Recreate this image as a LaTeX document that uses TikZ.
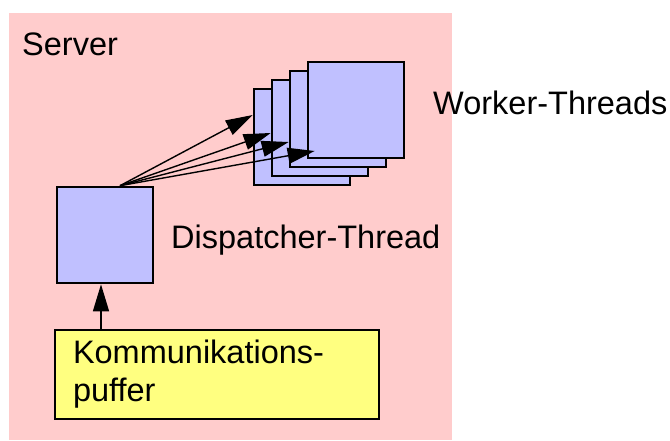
\documentclass[tikz,border=0pt]{standalone}
\usepackage{fontspec}
\setmainfont{Liberation Sans}
\usetikzlibrary{positioning,arrows.meta}
\definecolor{srvpink}{RGB}{255,204,204}
\definecolor{thrblue}{RGB}{192,192,255}
\definecolor{bufyellow}{RGB}{255,255,128}
\tikzset{
  thread/.style={draw,line width=2.6pt,fill=thrblue,minimum width=96pt,minimum height=96pt,inner sep=0pt},
  label/.style={inner sep=0pt,anchor=base west,font=\fontsize{32.5}{38}\selectfont},
  arr/.style={line width=1.4pt,-{Triangle[length=27pt,width=16pt]}}
}

\begin{document}
\begin{tikzpicture}[x=1pt,y=-1pt]
        \useasboundingbox (0,0) rectangle (670,440);
        \fill[srvpink] (9,13) rectangle (452,440);
        \node(S)[label] at (22,55) {Server};
        \node(W1)[thread] at (302,137) {};
        \node(W2)[thread] at ([shift={(18,-9)}]W1) {};
        \node(W3)[thread] at ([shift={(18,-9)}]W2) {};
        \node(W4)[thread] at ([shift={(18,-9)}]W3) {};
        \node(WL)[label] at (433,114) {Worker-Threads};
        \node(D)[thread] at (105,235) {};
        \node(DL)[label] at (171,248) {Dispatcher-Thread};
        \node(B)[draw,line width=2.6pt,fill=bufyellow,minimum width=324pt,minimum height=89pt,
              inner xsep=17.5pt,inner ysep=0pt,text width=288pt,align=left,
              font=\fontsize{32.5}{38}\selectfont] at (217,374.5) {Kommunikations-\\puffer};
        \coordinate(src) at ([xshift=15pt]D.north);
        \coordinate(up) at ([xshift=-4pt]D.south);
        \draw[arr] (src) -- ([yshift=22pt]W1.west);
        \draw[arr] (src) -- ([yshift=-5pt]W2.west);
        \draw[arr] (src) -- ([yshift=-23pt]W3.west);
        \draw[arr] (src) -- ([xshift=8pt,yshift=-41pt]W4.west);
        \draw[arr] (B.north -| up) -- (up);
    \end{tikzpicture}
\end{document}
